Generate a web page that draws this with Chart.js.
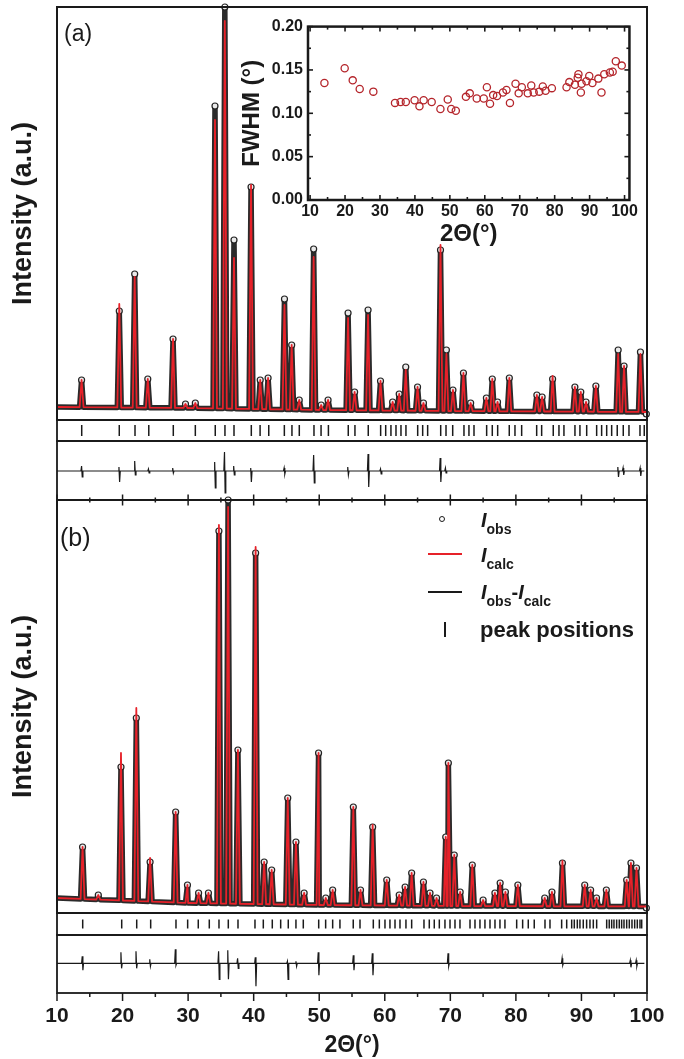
<!DOCTYPE html>
<html>
<head>
<meta charset="utf-8">
<script src="https://cdn.jsdelivr.net/npm/chart.js@4.4.1/dist/chart.umd.min.js"></script>
<style>
  html, body { margin: 0; padding: 0; background: #fff; }
  #wrap { position: relative; width: 684px; height: 1059px; overflow: hidden;
          font-family: 'Liberation Sans', Arial, Helvetica, sans-serif; color: #1a1a1a; }
  #wrap canvas { position: absolute; left: 0; }
  .lbl { position: absolute; line-height: 1; white-space: nowrap; }
  .leg { position: absolute; line-height: 1; white-space: nowrap; font-weight: bold; font-size: 20px; }
  .leg i { font-size: 20px; }
  .leg span { font-size: 14px; position: relative; top: 7px; }
  .sym { position: absolute; background: #1a1a1a; }
</style>
</head>
<body>
<div id="wrap">
  <canvas id="pa"  width="684" height="424" style="top:0"></canvas>
  <canvas id="ta"  width="684" height="29"  style="top:416px"></canvas>
  <canvas id="da"  width="684" height="72"  style="top:437px"></canvas>
  <canvas id="pb"  width="684" height="427" style="top:490px"></canvas>
  <canvas id="tb"  width="684" height="30"  style="top:909px"></canvas>
  <canvas id="db"  width="684" height="128" style="top:931px"></canvas>
  <canvas id="ins" width="405" height="238" style="left:235px;top:12px"></canvas>

  <div class="lbl" style="left:64px;top:22px;font-size:23px">(a)</div>
  <div class="lbl" style="left:60px;top:525px;font-size:25px">(b)</div>

  <!-- legend of panel (b) -->
  <div class="sym" style="left:438.7px;top:516.3px;width:6px;height:6px;box-sizing:border-box;border:1.2px solid #1a1a1a;border-radius:50%;background:#fff"></div>
  <div class="leg" style="left:481px;top:510px"><i>I</i><span>obs</span></div>
  <div class="sym" style="left:428px;top:553px;width:34px;height:2px;background:#e62129"></div>
  <div class="leg" style="left:481px;top:545px"><i>I</i><span>calc</span></div>
  <div class="sym" style="left:428px;top:591px;width:34px;height:2px"></div>
  <div class="leg" style="left:481px;top:582px"><i>I</i><span>obs</span>-<i>I</i><span>calc</span></div>
  <div class="sym" style="left:444px;top:622px;width:2px;height:15px"></div>
  <div class="leg" style="left:480px;top:619px;font-size:22px">peak positions</div>
</div>

<script>
const RED  = '#e62129';
const INK  = '#1a1a1a';
const WINE = '#b5262c';

// ── panel (a): peak position, calculated top, observed top (px units above the lower frame)
const POS_A  = [13.75, 19.5, 21.85, 23.85, 27.7, 29.6, 31.1, 34.1, 35.6, 37.0, 39.6, 41.0, 42.2, 44.7, 45.8, 46.95,
                49.15, 50.3, 51.35, 54.4, 55.4, 57.45, 59.35, 61.2, 62.2, 63.2, 65.0, 65.9, 68.5, 69.4, 70.4, 72.0,
                73.1, 75.5, 76.4, 77.2, 79.0, 83.2, 84.0, 85.6, 89.0, 89.9, 90.7, 92.2, 95.6, 96.5, 99.0];
const CALC_A = [40, 116, 143, 41, 81, 16, 17, 300, 399, 162, 235, 40, 42, 115, 75, 20,
                163, 15, 20, 102, 28, 105, 39, 18, 26, 50, 33, 17, 175, 66, 30, 47,
                17, 22, 41, 18, 42, 25, 23, 44, 33, 28, 18, 34, 66, 54, 66];
const OBS_A  = [40, 109, 146, 41, 81, 16, 17, 314, 413, 180, 233, 40, 42, 121, 75, 20,
                171, 15, 20, 107, 28, 110, 39, 18, 26, 53, 33, 17, 170, 70, 30, 47,
                17, 22, 41, 18, 42, 25, 23, 41, 33, 28, 18, 34, 70, 54, 68];
const BG_A   = [[10, 13], [30, 12], [50, 10], [70, 9], [100, 8]];
const END_A  = [99.9, 6];

const HKL_A = [13.77, 19.5, 21.9, 24.0, 27.74, 31.1, 34.14, 35.62, 37.0, 39.64, 40.98, 42.3, 44.68, 45.84, 46.96,
               49.2, 50.28, 51.4, 54.43, 55.45, 57.48, 59.37, 60.14, 60.94, 61.71, 62.47, 63.23, 65.02, 65.78,
               66.54, 68.53, 69.34, 70.36, 72.08, 72.84, 73.61, 75.54, 76.4, 77.22, 78.99, 79.86, 80.88, 83.17,
               83.93, 85.7, 86.57, 87.33, 89.01, 89.77, 90.8, 92.32, 93.08, 93.85, 94.61, 95.46, 96.38, 97.25,
               98.93, 99.58];

const DIFF_POS_A  = [13.8, 19.5, 21.9, 24.0, 27.7, 34.1, 35.6, 37.0, 39.6, 44.7, 49.2, 54.4, 57.5, 59.4, 68.5, 69.3, 95.6, 96.4, 99.0];
const DIFF_UP_A   = [5, 4, 10, 2, 3, 9, 19, 5, 3, 3, 16, 4, 17, 2, 13, 3, 4, 3, 3];
const DIFF_DOWN_A = [6, 11, 4, 2, 2, 17, 22, 4, 11, 3, 12, 4, 16, 3, 11, 2, 6, 4, 5];

// ── panel (b)
const POS_B  = [13.9, 16.3, 19.76, 22.1, 24.2, 28.1, 29.9, 31.6, 33.1, 34.7, 36.1, 37.6, 40.3, 41.6, 42.75, 45.2,
                46.45, 47.7, 49.9, 51.0, 52.05, 55.2, 56.3, 58.15, 60.3, 62.2, 63.1, 64.1, 65.9, 66.9, 67.9, 69.3,
                69.7, 70.6, 71.5, 73.35, 75.0, 76.8, 77.6, 78.4, 80.3, 84.4, 85.5, 87.1, 90.5, 91.4, 92.3, 93.8,
                96.9, 97.55, 98.4];
const CALC_B = [66, 18, 160, 205, 55, 101, 28, 20, 20, 388, 406, 163, 366, 51, 43, 115,
                71, 20, 160, 15, 23, 106, 23, 88, 33, 18, 26, 40, 31, 20, 15, 76,
                150, 58, 21, 48, 13, 20, 30, 21, 28, 15, 21, 52, 28, 23, 15, 23,
                33, 50, 45];
const OBS_B  = [66, 18, 146, 195, 51, 101, 28, 20, 20, 382, 413, 163, 360, 51, 43, 115,
                71, 20, 160, 15, 23, 106, 23, 86, 33, 18, 26, 40, 31, 20, 15, 76,
                150, 58, 21, 48, 13, 20, 30, 21, 28, 15, 21, 50, 28, 23, 15, 23,
                33, 50, 45];
const BG_B   = [[10, 15], [30, 10], [50, 8], [70, 7], [100, 6.5]];
const END_B  = [99.9, 5];

const HKL_B = [13.92, 19.87, 22.16, 24.29, 28.15, 29.93, 31.55, 33.23, 34.71, 36.13, 37.61, 40.2, 41.47, 42.84,
               44.12, 45.28, 46.45, 47.57, 49.92, 50.98, 52.05, 53.16, 55.19, 56.22, 58.25, 59.17, 60.03, 60.79,
               61.56, 62.32, 63.23, 64.1, 65.98, 66.79, 67.55, 68.32, 69.18, 69.95, 70.71, 71.47, 73.0, 73.76,
               74.52, 75.28, 76.05, 76.81, 77.57, 78.33, 80.12, 81.03, 81.89, 82.8, 84.44, 85.2, 86.98, 87.75,
               88.51, 88.91, 89.37, 89.77, 90.28, 90.79, 91.3, 91.81, 92.32, 93.85, 94.24, 94.61, 94.96, 95.37,
               95.77, 96.13, 96.49, 96.9, 97.3, 97.71, 98.12, 98.52, 98.93, 99.19];

const DIFF_POS_B  = [13.9, 19.8, 22.1, 24.2, 28.1, 34.7, 36.1, 37.6, 40.3, 45.2, 46.5, 49.9, 55.25, 58.15, 69.7, 87.1, 97.5, 98.4];
const DIFF_UP_B   = [7, 11, 12, 4, 14, 12, 13, 5, 6, 2, 2, 11, 8, 10, 10, 5, 3, 3];
const DIFF_DOWN_B = [7, 5, 5, 3, 2, 16, 16, 5, 23, 16, 3, 12, 7, 12, 3, 2, 4, 3];

// ── inset: FWHM against 2θ
const FWHM_2T = [14.1, 19.9, 22.2, 24.2, 28.1, 34.3, 35.9, 37.4, 39.9, 41.3, 42.5, 44.8, 47.3, 49.4, 50.4, 51.7,
                 54.6, 55.7, 57.7, 59.7, 60.6, 61.5, 62.4, 63.5, 65.2, 66.2, 67.2, 68.8, 69.7, 70.6, 72.3, 73.3,
                 74.0, 75.6, 76.6, 77.4, 79.2, 83.4, 84.2, 85.8, 86.6, 86.8, 87.5, 87.7, 89.1, 89.9, 90.8, 92.5,
                 93.4, 94.2, 95.8, 96.6, 97.5, 99.2];
const FWHM    = [0.135, 0.152, 0.138, 0.128, 0.125, 0.112, 0.113, 0.113, 0.115, 0.108, 0.115, 0.113, 0.105, 0.116,
                 0.105, 0.103, 0.119, 0.123, 0.117, 0.117, 0.130, 0.111, 0.121, 0.120, 0.124, 0.127, 0.112, 0.134,
                 0.123, 0.130, 0.123, 0.132, 0.124, 0.125, 0.131, 0.126, 0.129, 0.130, 0.136, 0.133, 0.141, 0.145,
                 0.124, 0.134, 0.137, 0.143, 0.135, 0.140, 0.124, 0.145, 0.147, 0.148, 0.160, 0.155];

// ── axes
const X_TICKS        = [10, 15, 20, 25, 30, 35, 40, 45, 50, 55, 60, 65, 70, 75, 80, 85, 90, 95, 100];
const X_LABELS       = [10, 20, 30, 40, 50, 60, 70, 80, 90, 100];
const INSET_Y_TICKS  = [0, 0.025, 0.05, 0.075, 0.1, 0.125, 0.15, 0.175, 0.2];
const INSET_Y_LABELS = [0, 0.05, 0.1, 0.15, 0.2];

const HALF = 0.3;   // half base width of a drawn peak, degrees

Chart.defaults.font.family = "'Liberation Sans', Arial, Helvetica, sans-serif";
Chart.defaults.color = INK;
Chart.defaults.layout.autoPadding = false;   // keep plot areas exactly where the padding puts them

// frame round the plot area, with optional tick marks
Chart.register({
  id: 'frame',
  afterDatasetsDraw(chart, args, o) {
    const { ctx, chartArea: a } = chart;
    ctx.save();
    ctx.strokeStyle = INK;
    ctx.lineWidth = o.width || 2;
    ctx.strokeRect(a.left, a.top, a.right - a.left, a.bottom - a.top);
    ctx.lineWidth = o.tickWidth || 1.5;
    (o.ticks || []).forEach((t) => {
      const sc = chart.scales[t.axis];
      t.values.forEach((v) => {
        const big = Math.abs(v / t.major - Math.round(v / t.major)) < 1e-6;
        const inn = big ? t.inner[0] : t.inner[1];
        const out = big ? t.outer[0] : t.outer[1];
        const p = sc.getPixelForValue(v);
        ctx.beginPath();
        if (t.side === 'bottom')   { ctx.moveTo(p, a.bottom - inn); ctx.lineTo(p, a.bottom + out); }
        else if (t.side === 'top') { ctx.moveTo(p, a.top + inn);    ctx.lineTo(p, a.top - out); }
        else if (t.side === 'left'){ ctx.moveTo(a.left + inn, p);   ctx.lineTo(a.left - out, p); }
        else                       { ctx.moveTo(a.right - inn, p);  ctx.lineTo(a.right + out, p); }
        ctx.stroke();
      });
    });
    ctx.restore();
  },
});

function bgAt(bg, x) {
  for (let i = 1; i < bg.length; i++) {
    if (x <= bg[i][0]) {
      const [x0, y0] = bg[i - 1], [x1, y1] = bg[i];
      return y0 + (y1 - y0) * (x - x0) / (x1 - x0);
    }
  }
  return bg[bg.length - 1][1];
}

// profile line: background anchors plus one narrow spike per peak
function profile(pos, tops, bg) {
  const pts = bg.map(([x, y]) => ({ x, y }));
  pos.forEach((p, i) => {
    pts.push({ x: p - HALF, y: bgAt(bg, p - HALF) }, { x: p, y: tops[i] }, { x: p + HALF, y: bgAt(bg, p + HALF) });
  });
  return pts.sort((a, b) => a.x - b.x);
}

function diffLine(pos, up, down) {
  const pts = [{ x: 10, y: 0 }];
  pos.forEach((p, i) => {
    pts.push({ x: p - 0.15, y: 0 }, { x: p - 0.05, y: up[i] }, { x: p + 0.05, y: -down[i] }, { x: p + 0.15, y: 0 });
  });
  pts.push({ x: 99.6, y: 0 });
  return pts;
}

const base = {
  animation: false,
  responsive: false,
  events: [],
  plugins: { legend: { display: false }, tooltip: { enabled: false } },
};
const xHidden = { type: 'linear', min: 10, max: 100, display: false };
const noGrid = { display: false, drawTicks: false };

function profileChart(id, pos, calc, obs, bg, end, padTop) {
  new Chart(document.getElementById(id), {
    type: 'line',
    data: {
      datasets: [
        { data: profile(pos, calc, bg), borderColor: RED, borderWidth: 1.8, pointRadius: 0,
          borderJoinStyle: 'round' },
        { data: pos.map((p, i) => ({ x: p, y: obs[i] })).concat([{ x: end[0], y: end[1] }]),
          showLine: false, pointRadius: 3, pointBorderWidth: 1.2, pointBorderColor: '#222',
          pointBackgroundColor: 'rgba(255,255,255,0.9)', clip: false },
        { data: profile(pos, obs, bg), borderColor: '#2b2b2b', borderWidth: 5.5, pointRadius: 0,
          borderJoinStyle: 'round' },
      ],
    },
    options: {
      ...base,
      layout: { padding: { top: padTop, bottom: 4, left: 0, right: 37 } },
      scales: {
        x: xHidden,
        y: {
          min: 0, max: 413,
          ticks: { display: false }, grid: noGrid, border: { display: false },
          title: { display: true, text: 'Intensity (a.u.)', color: INK,
                   font: { size: 27, weight: 'bold' }, padding: { top: 7, bottom: 0 } },
          afterFit: (s) => { s.width = 57; },
        },
      },
    },
  });
}

function tickRow(id, hkl, r) {
  new Chart(document.getElementById(id), {
    type: 'scatter',
    data: { datasets: [{ data: hkl.map((x) => ({ x, y: 0.5 })), pointStyle: 'line', rotation: 90,
                         radius: r, borderColor: INK, borderWidth: 1.5 }] },
    options: {
      ...base,
      layout: { padding: { top: 4, bottom: 4, left: 57, right: 37 } },
      plugins: { ...base.plugins, frame: { width: 1.8 } },
      scales: { x: xHidden, y: { min: 0, max: 1, display: false } },
    },
  });
}

function diffOptions(min, max, padBottom, xScale, ticks) {
  return {
    ...base,
    layout: { padding: { top: 4, bottom: padBottom, left: 57, right: 37 } },
    plugins: { ...base.plugins, frame: { width: 1.8, ticks } },
    scales: { x: xScale, y: { min, max, display: false } },
  };
}

profileChart('pa', POS_A, CALC_A, OBS_A, BG_A, END_A, 7);
tickRow('ta', HKL_A, 5.5);
new Chart(document.getElementById('da'), {
  type: 'line',
  data: { datasets: [{ data: diffLine(DIFF_POS_A, DIFF_UP_A, DIFF_DOWN_A), borderColor: INK,
                       borderWidth: 1.2, pointRadius: 0 }] },
  options: diffOptions(-29, 30, 9, xHidden,
    [{ axis: 'x', side: 'bottom', values: X_TICKS, major: 10, inner: [5.5, 2.5], outer: [5.5, 2.5] }]),
});

profileChart('pb', POS_B, CALC_B, OBS_B, BG_B, END_B, 10);
tickRow('tb', HKL_B, 4.5);
new Chart(document.getElementById('db'), {
  type: 'line',
  data: { datasets: [{ data: diffLine(DIFF_POS_B, DIFF_UP_B, DIFF_DOWN_B), borderColor: INK,
                       borderWidth: 1.2, pointRadius: 0 }] },
  options: diffOptions(-29.7, 28.3, 0, {
    type: 'linear', min: 10, max: 100,
    afterBuildTicks: (s) => { s.ticks = X_LABELS.map((v) => ({ value: v })); },
    ticks: { font: { size: 21, weight: 'bold' }, padding: 11, color: INK, maxRotation: 0 },
    grid: noGrid, border: { display: false },
    title: { display: true, text: '2Θ(°)', color: INK, font: { size: 23, weight: 'bold' },
             padding: { top: 0, bottom: 0 } },
    afterFit: (s) => { s.height = 66; },
  }, [{ axis: 'x', side: 'bottom', values: X_TICKS, major: 10, inner: [0, 0], outer: [8, 4] }]),
});

// inset
new Chart(document.getElementById('ins'), {
  type: 'scatter',
  data: { datasets: [{ data: FWHM_2T.map((x, i) => ({ x, y: FWHM[i] })), pointRadius: 3.6,
                       pointBorderWidth: 1.3, pointBorderColor: WINE,
                       pointBackgroundColor: 'rgba(255,255,255,0)' }] },
  options: {
    ...base,
    layout: { padding: { top: 11, right: 7, left: 0, bottom: 0 } },
    plugins: {
      ...base.plugins,
      frame: {
        width: 2.5, tickWidth: 1.6,
        ticks: [
          { axis: 'x', side: 'bottom', values: X_TICKS, major: 10, inner: [5, 3], outer: [0, 0] },
          { axis: 'x', side: 'top',    values: X_TICKS, major: 10, inner: [5, 3], outer: [0, 0] },
          { axis: 'y', side: 'left',   values: INSET_Y_TICKS, major: 0.05, inner: [5, 3], outer: [0, 0] },
          { axis: 'y', side: 'right',  values: INSET_Y_TICKS, major: 0.05, inner: [5, 3], outer: [0, 0] },
        ],
      },
    },
    scales: {
      x: {
        type: 'linear', min: 9.4, max: 101.4,
        afterBuildTicks: (s) => { s.ticks = X_LABELS.map((v) => ({ value: v })); },
        ticks: { font: { size: 16, weight: 'bold' }, padding: 2, color: INK, maxRotation: 0 },
        grid: noGrid, border: { display: false },
        title: { display: true, text: '2Θ(°)', color: INK, font: { size: 24, weight: 'bold' },
                 padding: { top: 0, bottom: 1 } },
        afterFit: (s) => { s.height = 50; },
      },
      y: {
        min: 0, max: 0.2,
        afterBuildTicks: (s) => { s.ticks = INSET_Y_LABELS.map((v) => ({ value: v })); },
        ticks: { font: { size: 16, weight: 'bold' }, padding: 5, color: INK,
                 callback: (v) => v.toFixed(2) },
        grid: noGrid, border: { display: false },
        title: { display: true, text: 'FWHM (°)', color: INK, font: { size: 24, weight: 'bold' },
                 padding: { top: 3, bottom: 0 } },
        afterFit: (s) => { s.width = 73; },
      },
    },
  },
});
</script>
</body>
</html>
